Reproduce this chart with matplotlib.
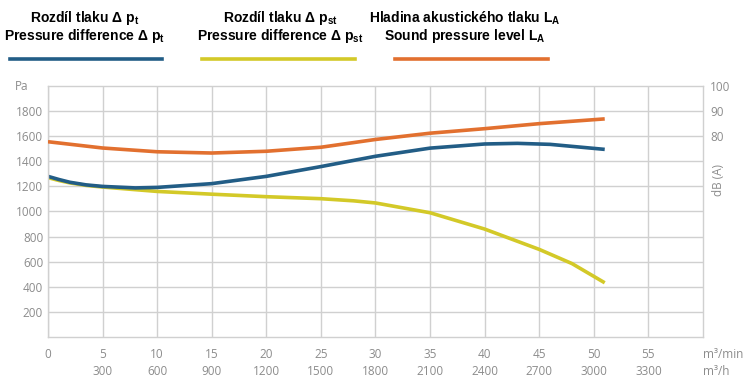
import matplotlib.pyplot as plt

# flow in m3/min
flow = [0, 1, 2, 3.5, 5, 8, 10, 15, 20, 25, 30, 35, 40, 43, 46, 51]
# total pressure difference, Pa
p_total = [1280, 1255, 1233, 1212, 1200, 1188, 1192, 1222, 1280, 1358, 1440, 1505, 1538, 1543, 1535, 1495]
# static pressure difference, Pa
flow_st = [0, 1, 2, 3.5, 5, 10, 15, 20, 25, 28, 30, 35, 40, 45, 48, 51]
p_static = [1270, 1247, 1228, 1208, 1195, 1160, 1138, 1118, 1102, 1085, 1068, 990, 860, 698, 585, 432]
# sound pressure level, dB(A)
flow_la = [0, 5, 10, 15, 20, 25, 30, 35, 40, 45, 51]
sound_la = [77.8, 75.3, 73.8, 73.3, 74.0, 75.6, 78.7, 81.2, 83.0, 85.0, 86.9]

x_ticks = [0, 5, 10, 15, 20, 25, 30, 35, 40, 45, 50, 55]
x_ticks_h = ['', '300', '600', '900', '1200', '1500', '1800', '2100', '2400', '2700', '3000', '3300']
y_ticks = [200, 400, 600, 800, 1000, 1200, 1400, 1600, 1800]
db_ticks = [80, 90, 100]

blue = '#225d86'
yellow = '#d3c928'
orange = '#e2702f'
grey = '#8c8c8c'
grid_c = '#d0d0d0'

plt.rcParams['font.family'] = ['Open Sans', 'DejaVu Sans']

fig = plt.figure(figsize=(7.5, 3.85), dpi=100)
ax = fig.add_axes([0.064, 0.1247, 0.8733, 0.6519])
ax.set_xlim(0, 60)
ax.set_ylim(0, 2000)
ax.set_xticks(x_ticks)
ax.set_xticklabels([str(t) for t in x_ticks])
ax.set_yticks(y_ticks)
ax.tick_params(length=0, colors=grey, labelsize=8.5)
ax.tick_params(axis='x', pad=8)
ax.grid(True, color=grid_c, lw=1)
ax.set_axisbelow(True)
for s in ax.spines.values():
    s.set_color(grid_c)
    s.set_linewidth(1)

ax2 = ax.twinx()
ax2.set_ylim(0, 100)
ax2.set_yticks(db_ticks)
ax2.tick_params(length=0, colors=grey, labelsize=8.5, pad=5)
for s in ax2.spines.values():
    s.set_visible(False)

ax.plot(flow_st, p_static, color=yellow, lw=2.6, solid_capstyle='butt')
ax.plot(flow, p_total, color=blue, lw=2.6, solid_capstyle='butt')
ax2.plot(flow_la, sound_la, color=orange, lw=2.6, solid_capstyle='butt')

# second row of x labels (m3/h)
for t, lab in zip(x_ticks, x_ticks_h):
    ax.text(t, -0.11, lab, transform=ax.get_xaxis_transform(), ha='center', va='top',
            color=grey, fontsize=8.5)
ax.text(60, -0.045, 'm³/min', transform=ax.get_xaxis_transform(), ha='left', va='top',
        color=grey, fontsize=8.5)
ax.text(60, -0.11, 'm³/h', transform=ax.get_xaxis_transform(), ha='left', va='top',
        color=grey, fontsize=8.5)

fig.text(15 / 750, 1 - 86 / 385, 'Pa', color=grey, fontsize=8.5, ha='left', va='center')
fig.text(719 / 750, 1 - 180 / 385, 'dB (A)', color=grey, fontsize=8.5, rotation=90,
         ha='center', va='center')

# legend drawn at the top
legend = [
    (85, 10, 162, blue, 'Rozdíl tlaku Δ p$_\\mathregular{t}$',
     'Pressure difference Δ p$_\\mathregular{t}$'),
    (280, 202, 355, yellow, 'Rozdíl tlaku Δ p$_\\mathregular{st}$',
     'Pressure difference Δ p$_\\mathregular{st}$'),
    (465, 395, 548, orange, 'Hladina akustického tlaku L$_\\mathregular{A}$',
     'Sound pressure level L$_\\mathregular{A}$'),
]
for cx, x0, x1, col, l1, l2 in legend:
    fig.text(cx / 750, 1 - 18 / 385, l1, ha='center', va='center', fontsize=10,
             fontweight='bold', family=['Liberation Sans', 'DejaVu Sans'])
    fig.text(cx / 750, 1 - 36 / 385, l2, ha='center', va='center', fontsize=10,
             fontweight='bold', family=['Liberation Sans', 'DejaVu Sans'])
    fig.add_artist(plt.Line2D([x0 / 750, x1 / 750], [1 - 59 / 385, 1 - 59 / 385],
                              color=col, lw=2.6, transform=fig.transFigure))

fig.savefig('out.png', dpi=100)
